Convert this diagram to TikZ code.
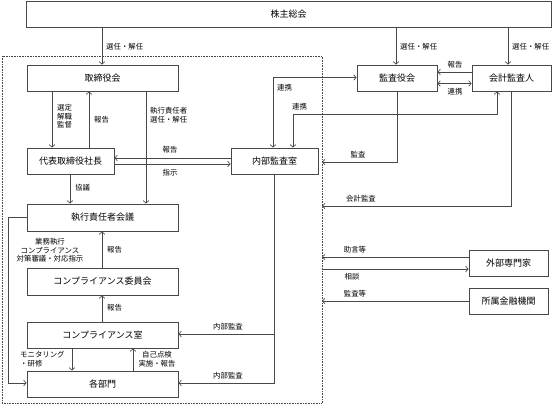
\documentclass[tikz,border=0pt]{standalone}
\usepackage{fontspec}
\setmainfont{Noto Sans CJK JP}
\usetikzlibrary{arrows.meta}
\definecolor{linec}{HTML}{484848}
\begin{document}
\begin{tikzpicture}[x=1pt,y=-1pt,
  box/.style={draw=linec, line width=0.8pt, inner sep=0pt, fill=white, font=\fontsize{9}{10}\selectfont},
  lab/.style={font=\fontsize{7.4}{8.6}\selectfont, inner sep=0pt, text=black},
  conn/.style={draw=linec, line width=0.7pt, -{Straight Barb[length=2.5pt,width=5.5pt]}},
  bconn/.style={draw=linec, line width=0.7pt, {Straight Barb[length=2.5pt,width=5.5pt]}-{Straight Barb[length=2.5pt,width=5.5pt]}}]
\useasboundingbox (0,0) rectangle (553,405);
% dotted boundary
\draw[linec, densely dotted, line width=0.6pt] (2,56) rectangle (322,403);
% boxes
\node[box, minimum width=525pt, minimum height=26pt] (kabu) at (288.5,14) {株主総会};
\node[box, minimum width=151pt, minimum height=26pt] (tori) at (102.5,78) {取締役会};
\node[box, minimum width=87pt, minimum height=26pt] (daihyo) at (70.5,161) {代表取締役社長};
\node[box, minimum width=87pt, minimum height=26pt] (naibu) at (274.5,161) {内部監査室};
\node[box, minimum width=151pt, minimum height=27pt] (shikko) at (102.5,217.5) {執行責任者会議};
\node[box, minimum width=151pt, minimum height=27pt] (iinkai) at (102.5,281.5) {コンプライアンス委員会};
\node[box, minimum width=151pt, minimum height=26pt] (shitsu) at (102.5,335) {コンプライアンス室};
\node[box, minimum width=151pt, minimum height=26pt] (kakubu) at (102.5,384) {各部門};
\node[box, minimum width=80pt, minimum height=26pt] (kansa) at (397,78) {監査役会};
\node[box, minimum width=79pt, minimum height=26pt] (kaikei) at (511.5,78) {会計監査人};
\node[box, minimum width=79pt, minimum height=26pt] (gaibu) at (508.5,263) {外部専門家};
\node[box, minimum width=79pt, minimum height=26pt] (shozoku) at (508.5,301) {所属金融機関};
% 株主総会 arrows
\draw[conn] (kabu.south -| 102,0) -- (tori.north -| 102,0);
\node[lab, anchor=west] (l1) at (106,47) {選任・解任};
\draw[conn] (kabu.south -| 396,0) -- (kansa.north -| 396,0);
\node[lab, anchor=west] (l2) at (400,47) {選任・解任};
\draw[conn] (kabu.south -| 508,0) -- (kaikei.north -| 508,0);
\node[lab, anchor=west] (l3) at (512,47) {選任・解任};
% 取締役会 <-> 代表
\draw[conn] (tori.south -| 52,0) -- (daihyo.north -| 52,0);
\node[lab, anchor=north west, align=left] (l4) at (57,104) {選定\\解職\\監督};
\draw[conn] (daihyo.north -| 89,0) -- (tori.south -| 89,0);
\node[lab, anchor=west] (l5) at (94,120) {報告};
\draw[conn] (tori.south -| 146,0) -- (shikko.north -| 146,0);
\node[lab, anchor=north west, align=left] (l6) at (150,107) {執行責任者\\選任・解任};
% 代表 <-> 内部監査室
\draw[conn] (naibu.west |- 0,158) -- (daihyo.east |- 0,158);
\node[lab] (l7) at (170,150) {報告};
\draw[conn] (daihyo.east |- 0,164) -- (naibu.west |- 0,164);
\node[lab] (l8) at (170,173) {指示};
\draw[conn] (daihyo.south -| 70,0) -- (shikko.north -| 70,0);
\node[lab, anchor=west] (l9) at (75,188) {協議};
% 監査役会 <-> 内部監査室
\draw[bconn] (kansa.west |- 0,77.5) -- (273,77.5) -- (naibu.north -| 273,0);
\node[lab, anchor=west] (l10) at (277,88) {連携};
\draw[bconn] (kaikei.south -| 497,0) -- (497,114) -- (293,114) -- (naibu.north -| 293,0);
\node[lab, anchor=west] (l11) at (292,107) {連携};
% 監査役会 <-> 会計監査人
\draw[conn] (kaikei.west |- 0,72) -- (kansa.east |- 0,72);
\node[lab] (l12) at (455,65) {報告};
\draw[bconn] (kansa.east |- 0,83.5) -- (kaikei.west |- 0,83.5);
\node[lab] (l13) at (455,92) {連携};
% audits to boundary
\coordinate (b1) at (322,162);
\coordinate (b2) at (322,206);
\coordinate (b3) at (322,257);
\coordinate (b4) at (322,269);
\coordinate (b5) at (322,301);
\draw[conn] (kansa.south) -- (kansa.south |- b1) -- (b1);
\node[lab] (l14) at (358,155) {監査};
\draw[conn] (kaikei.south -| 511,0) -- (511,206) -- (b2);
\node[lab] (l15) at (361,199) {会計監査};
\draw[conn] (gaibu.west |- b3) -- (b3);
\node[lab] (l16) at (355,250) {助言等};
\draw[conn] (b4) -- (gaibu.west |- b4);
\node[lab] (l17) at (352,277) {相談};
\draw[conn] (shozoku.west) -- (b5);
\node[lab] (l18) at (355,294) {監査等};
% internal audit down
\coordinate (j1) at (274.5,334);
\coordinate (j2) at (274.5,383);
\draw[linec, line width=0.7pt] (naibu.south) -- (j2);
\draw[conn] (j1) -- (shitsu.east |- j1);
\node[lab] (l19) at (228,327) {内部監査};
\draw[conn] (j2) -- (kakubu.east |- j2);
\node[lab] (l20) at (228,376) {内部監査};
% compliance chain
\draw[conn] (iinkai.north -| 102,0) -- (shikko.south -| 102,0);
\node[lab, anchor=west] (l21) at (107,250) {報告};
\draw[conn] (shitsu.north -| 102,0) -- (iinkai.south -| 102,0);
\node[lab, anchor=west] (l22) at (107,308) {報告};
\draw[conn] (shikko.west |- 0,217) -- (8,217) -- (8,383) -- (kakubu.west |- 0,383);
\node[lab, align=center] (l23) at (50,250.5) {業務執行\\コンプライアンス\\対策審議・対応指示};
\draw[conn] (shitsu.south -| 72,0) -- (kakubu.north -| 72,0);
\node[lab, anchor=west, align=left] (l24) at (20,359) {モニタリング\\・研修};
\draw[conn] (kakubu.north -| 133,0) -- (shitsu.south -| 133,0);
\node[lab, align=center] (l25) at (157,359) {自己点検\\実施・報告};
\end{tikzpicture}
\end{document}
